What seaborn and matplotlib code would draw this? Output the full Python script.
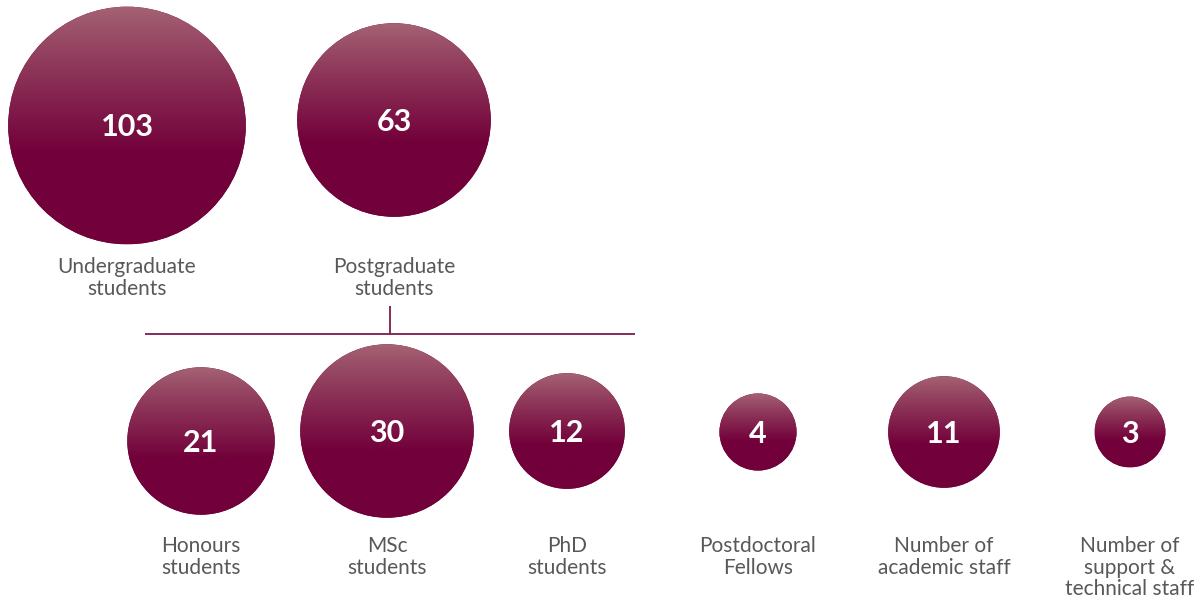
import numpy as np
import pandas as pd
import matplotlib
matplotlib.use("Agg")
import matplotlib.pyplot as plt
from matplotlib.patches import Circle
import seaborn as sns

# ---- data -------------------------------------------------------------
top_labels = ["Undergraduate\nstudents", "Postgraduate\nstudents"]
top_values = [103, 63]

bottom_labels = ["Honours\nstudents", "MSc\nstudents", "PhD\nstudents",
                 "Postdoctoral\nFellows", "Number of\nacademic staff",
                 "Number of\nsupport &\ntechnical staff"]
bottom_values = [21, 30, 12, 4, 11, 3]

# ---- layout (pixel space) ----------------------------------------------
W, H, DPI = 1200, 603, 100
top_x = [127, 394]
top_y = [125.5, 120]
bottom_x = [201, 387, 567, 758, 944, 1130]
bottom_y = [441, 431, 431, 432, 432, 432]

DARK = "#72003a"
LIGHT = "#a56474"
LINE = "#7b1d4b"
TEXT = "#585858"

sns.set_theme(style="white")
plt.rcParams["font.family"] = ["Lato", "DejaVu Sans"]

fig = plt.figure(figsize=(W / DPI, H / DPI), dpi=DPI)
ax = fig.add_axes([0, 0, 1, 1])

top_df = pd.DataFrame({"x": top_x, "y": top_y, "value": top_values, "label": top_labels})
bot_df = pd.DataFrame({"x": bottom_x, "y": bottom_y, "value": bottom_values, "label": bottom_labels})

# bubble area grows linearly with the value within each tier
sns.scatterplot(data=top_df, x="x", y="y", size="value", size_norm=(63, 103),
                sizes=(19430, 29270), color=DARK, linewidth=0, legend=False, ax=ax)
sns.scatterplot(data=bot_df, x="x", y="y", size="value", size_norm=(3, 30),
                sizes=(2600, 15600), color=DARK, linewidth=0, legend=False, ax=ax)
ax.set_xlim(0, W)
ax.set_ylim(H, 0)
ax.set_axis_off()

# vertical gradient: light mauve at the top fading to deep maroon
n = 256
t = np.linspace(0, 1, n)
ramp = np.clip(t / 0.62, 0, 1) ** 0.9
c0 = np.array(matplotlib.colors.to_rgb(LIGHT))
c1 = np.array(matplotlib.colors.to_rgb(DARK))
grad = (c0[None, :] * (1 - ramp[:, None]) + c1[None, :] * ramp[:, None])[:, None, :]

for coll in list(ax.collections[:2]):
    sizes = coll.get_sizes()
    offs = coll.get_offsets()
    for (cx, cy), s in zip(offs, sizes):
        r = np.sqrt(s) / 2 * DPI / 72
        clip = Circle((cx, cy), r, transform=ax.transData)
        im = ax.imshow(grad, extent=(cx - r, cx + r, cy + r, cy - r),
                       origin="upper", aspect="auto", interpolation="bilinear", zorder=3)
        im.set_clip_path(clip)
ax.set_xlim(0, W)
ax.set_ylim(H, 0)

# values and captions
for df, label_top in [(top_df, 257), (bot_df, 536)]:
    for _, row in df.iterrows():
        ax.text(row.x, row.y + 2, f"{row.value}", color="white", fontsize=22,
                fontweight="bold", ha="center", va="center", zorder=5)
        ax.text(row.x, label_top, row.label, color=TEXT, fontsize=15,
                fontweight="normal", ha="center", va="top", linespacing=1.1, zorder=5)

# bracket linking the postgraduate bubble to its breakdown
ax.plot([390, 390], [306, 333.5], color=LINE, lw=1.3, solid_capstyle="butt", zorder=2)
ax.plot([145, 635], [333.5, 333.5], color=LINE, lw=1.3, solid_capstyle="butt", zorder=2)

ax.set_xlim(0, W)
ax.set_ylim(H, 0)
fig.savefig("out.png", dpi=DPI, facecolor="white")
